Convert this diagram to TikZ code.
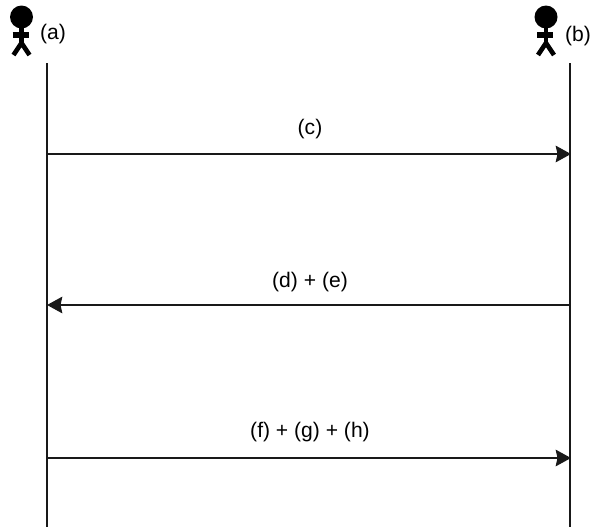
\documentclass[tikz,border=0pt]{standalone}
\usepackage{fontspec}
\setmainfont{Liberation Sans}
\usepackage{xcolor}
\usetikzlibrary{arrows.meta}
\tikzset{
lifeline/.style={line width=2.3pt,black!90},
msg/.style={line width=2.1pt,black!90,-{Stealth[length=13pt,width=14pt,inset=1.5pt]}},
tag/.style={inner sep=0pt,font=\fontsize{18}{21}\selectfont},
person/.pic={
\fill(0,0)circle(11.5);
\draw[line width=4pt](0,10)--(0,26);
\draw[line width=5pt](-9,18)--(7,18);
\draw[line width=4pt](-8,38)--(0,26)--(8,38);
}}
\begin{document}
\begin{tikzpicture}[x=0.03cm,y=-0.03cm]
\useasboundingbox(0,0)rectangle(592,527);
\path(21.5,17)pic{person};
\path(546,17)pic{person};
\coordinate(atop)at(47,63);
\coordinate(abot)at(47,527);
\coordinate(btop)at(570,63);
\coordinate(bbot)at(570,527);
\draw[lifeline](atop)--(abot);
\draw[lifeline](btop)--(bbot);
\coordinate(a1)at(47,154);
\coordinate(b1)at(571,154);
\coordinate(a2)at(47,305);
\coordinate(b2)at(570,305);
\coordinate(a3)at(47,458);
\coordinate(b3)at(571,458);
\draw[msg](a1)--(b1);
\draw[msg](b2)--(a2);
\draw[msg](a3)--(b3);
\node[tag](la)at(53,34){(a)};
\node[tag](lb)at(578,36){(b)};
\node[tag](lc)at(310,129){(c)};
\node[tag](lde)at(310,282){(d) + (e)};
\node[tag](lfgh)at(310,432){(f) + (g) + (h)};
\end{tikzpicture}
\end{document}
